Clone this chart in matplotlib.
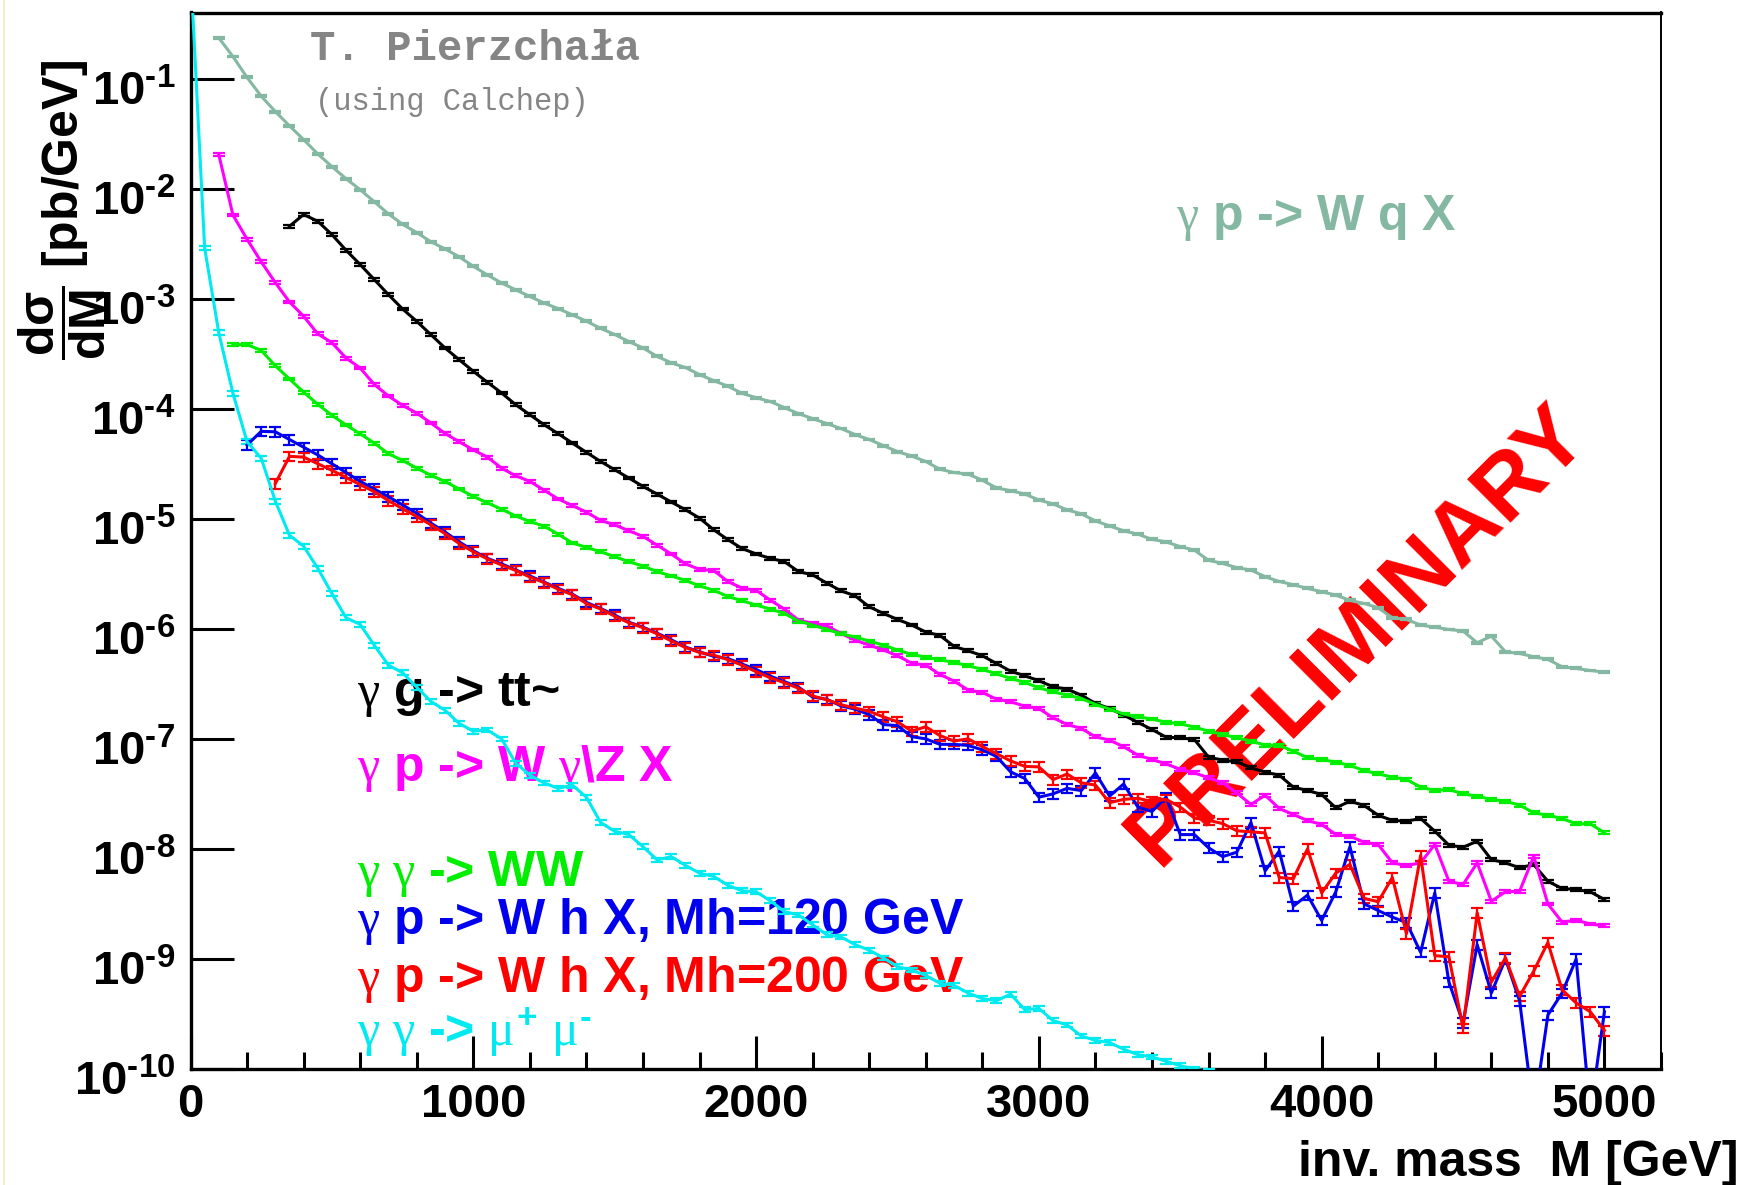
import numpy as np
import matplotlib
matplotlib.use("Agg")
import matplotlib.pyplot as plt
import matplotlib.transforms as mtransforms
from matplotlib.lines import Line2D
from matplotlib.ticker import FixedLocator, FuncFormatter, LogLocator, MultipleLocator, NullFormatter

plt.rcParams['font.family'] = ['Liberation Sans', 'DejaVu Sans']
plt.rcParams['mathtext.fontset'] = 'custom'
plt.rcParams['mathtext.rm'] = 'Liberation Sans:bold'
plt.rcParams['mathtext.bf'] = 'Liberation Sans:bold'
plt.rcParams['mathtext.sf'] = 'Liberation Sans:bold'
plt.rcParams['mathtext.it'] = 'Liberation Serif'

BIN = 50  # GeV, histogram bin width

# log10 of dsigma/dM [pb/GeV], one value per 50 GeV bin starting at *_start
wqx_start = 100
wqx_log10 = [
    -0.63, -0.80, -0.99, -1.16, -1.30, -1.43, -1.555, -1.685, -1.80, -1.91,
    -2.01, -2.12, -2.23, -2.325, -2.40, -2.483, -2.548, -2.62, -2.706, -2.785,
    -2.858, -2.92, -2.98, -3.04, -3.09, -3.147, -3.205, -3.27, -3.326, -3.39,
    -3.448, -3.525, -3.583, -3.626, -3.69, -3.745, -3.795, -3.86, -3.90, -3.935,
    -3.99, -4.045, -4.09, -4.135, -4.18, -4.235, -4.28, -4.335, -4.39, -4.43,
    -4.48, -4.55, -4.58, -4.595, -4.65, -4.72, -4.745, -4.775, -4.83, -4.865,
    -4.92, -4.955, -5.02, -5.065, -5.11, -5.14, -5.188, -5.21, -5.254, -5.285,
    -5.378, -5.406, -5.445, -5.466, -5.527, -5.57, -5.60, -5.633, -5.663, -5.694,
    -5.742, -5.77, -5.809, -5.90, -5.915, -5.966, -5.985, -6.006, -6.02, -6.127,
    -6.066, -6.209, -6.224, -6.254, -6.278, -6.345, -6.36, -6.379, -6.394,
]

ttbar_start = 350
ttbar_log10 = [
    -2.342, -2.236, -2.297, -2.418, -2.56, -2.69, -2.827, -2.964, -3.094, -3.206,
    -3.327, -3.448, -3.555, -3.66, -3.76, -3.857, -3.964, -4.055, -4.145, -4.227,
    -4.312, -4.397, -4.479, -4.555, -4.63, -4.706, -4.776, -4.848, -4.918, -4.994,
    -5.10, -5.19, -5.27, -5.32, -5.36, -5.39, -5.48, -5.51, -5.585, -5.655,
    -5.70, -5.80, -5.86, -5.915, -5.965, -6.03, -6.06, -6.16, -6.20, -6.245,
    -6.315, -6.385, -6.427, -6.472, -6.527, -6.548, -6.603, -6.678, -6.724, -6.784,
    -6.851, -6.915, -6.985, -6.991, -7.006, -7.166, -7.194, -7.209, -7.263, -7.303,
    -7.33, -7.439, -7.469, -7.506, -7.627, -7.566, -7.606, -7.694, -7.742, -7.748,
    -7.724, -7.839, -7.966, -7.985, -7.93, -8.097, -8.127, -8.172, -8.142, -8.294,
    -8.36, -8.369, -8.39, -8.46,
]

wgz_start = 100
wgz_log10 = [
    -1.69, -2.24, -2.46, -2.665, -2.855, -3.03, -3.16, -3.32, -3.40, -3.54,
    -3.63, -3.78, -3.885, -3.97, -4.04, -4.13, -4.225, -4.30, -4.375, -4.44,
    -4.54, -4.61, -4.66, -4.74, -4.82, -4.88, -4.94, -5.015, -5.055, -5.11,
    -5.16, -5.24, -5.32, -5.41, -5.46, -5.47, -5.57, -5.63, -5.65, -5.739,
    -5.821, -5.921, -5.951, -5.972, -6.042, -6.103, -6.148, -6.193, -6.245, -6.312,
    -6.33, -6.415, -6.475, -6.557, -6.578, -6.639, -6.663, -6.703, -6.724, -6.809,
    -6.869, -6.906, -6.981, -7.012, -7.072, -7.148, -7.188, -7.227, -7.278, -7.309,
    -7.354, -7.40, -7.491, -7.597, -7.512, -7.633, -7.688, -7.742, -7.778, -7.869,
    -7.885, -7.939, -7.96, -8.127, -8.151, -8.127, -7.96, -8.294, -8.324, -8.127,
    -8.475, -8.39, -8.385, -8.067, -8.50, -8.665, -8.648, -8.682, -8.699,
]

ww_start = 150
ww_log10 = [
    -3.418, -3.418, -3.47, -3.61, -3.73, -3.85, -3.96, -4.06, -4.148, -4.228,
    -4.313, -4.41, -4.47, -4.54, -4.605, -4.662, -4.73, -4.797, -4.856, -4.913,
    -4.975, -5.025, -5.067, -5.14, -5.22, -5.26, -5.30, -5.345, -5.39, -5.43,
    -5.48, -5.52, -5.56, -5.61, -5.65, -5.706, -5.745, -5.784, -5.821, -5.86,
    -5.93, -5.966, -6.006, -6.045, -6.075, -6.112, -6.148, -6.193, -6.233, -6.257,
    -6.281, -6.306, -6.336, -6.369, -6.409, -6.451, -6.487, -6.536, -6.572, -6.603,
    -6.633, -6.687, -6.73, -6.775, -6.80, -6.82, -6.85, -6.863, -6.894, -6.93,
    -6.96, -6.99, -7.021, -7.057, -7.06, -7.112, -7.172, -7.188, -7.212, -7.242,
    -7.288, -7.318, -7.348, -7.369, -7.439, -7.469, -7.46, -7.50, -7.521, -7.551,
    -7.566, -7.603, -7.672, -7.694, -7.724, -7.772, -7.772, -7.854,
]

wh120_start = 200
wh120_log10 = [
    -4.33, -4.206, -4.21, -4.28, -4.35, -4.42, -4.50, -4.58, -4.66, -4.73,
    -4.80, -4.875, -4.95, -5.04, -5.12, -5.21, -5.29, -5.36, -5.41, -5.465,
    -5.52, -5.575, -5.632, -5.685, -5.76, -5.815, -5.875, -5.94, -5.985, -6.04,
    -6.10, -6.165, -6.21, -6.25, -6.27, -6.32, -6.37, -6.43, -6.48, -6.53,
    -6.62, -6.64, -6.70, -6.73, -6.78, -6.87, -6.88, -6.98, -7.00, -7.05,
    -7.05, -7.06, -7.10, -7.16, -7.30, -7.36, -7.53, -7.50, -7.45, -7.47,
    -7.31, -7.52, -7.41, -7.62, -7.66, -7.53, -7.87, -7.87, -7.99, -8.07,
    -8.03, -7.76, -8.20, -8.02, -8.52, -8.42, -8.65, -8.39, -7.98, -8.50,
    -8.56, -8.62, -8.67, -8.94, -8.40, -9.21, -9.58, -8.87, -9.31, -9.00,
    -9.38, -10.4, -9.51, -9.31, -9.00, -10.4, -9.48,
]

wh200_start = 300
wh200_log10 = [
    -4.68, -4.433, -4.44, -4.50, -4.56, -4.625, -4.69, -4.755, -4.835, -4.91,
    -4.98, -5.055, -5.135, -5.225, -5.30, -5.365, -5.42, -5.47, -5.53, -5.58,
    -5.64, -5.69, -5.77, -5.82, -5.885, -5.945, -5.99, -6.045, -6.11, -6.17,
    -6.215, -6.24, -6.28, -6.33, -6.39, -6.445, -6.49, -6.54, -6.61, -6.645,
    -6.69, -6.72, -6.75, -6.80, -6.845, -6.93, -6.89, -6.97, -7.02, -7.00,
    -7.07, -7.135, -7.20, -7.25, -7.255, -7.37, -7.32, -7.40, -7.42, -7.58,
    -7.55, -7.54, -7.57, -7.55, -7.62, -7.72, -7.74, -7.77, -7.835, -7.845,
    -7.855, -8.26, -8.27, -8.00, -8.40, -8.22, -8.14, -8.45, -8.48, -8.26,
    -8.77, -8.06, -8.97, -8.98, -9.63, -8.58, -9.21, -8.99, -9.34, -9.11,
    -8.85, -9.28, -9.40, -9.48, -9.65,
]

mumu_start = 0
mumu_log10 = [
    0.0, -2.54, -3.31, -3.86, -4.30, -4.45, -4.84, -5.15, -5.25, -5.45,
    -5.68, -5.90, -5.96, -6.15, -6.33, -6.40, -6.53, -6.66, -6.74, -6.86,
    -6.93, -6.92, -7.00, -7.22, -7.33, -7.40, -7.45, -7.42, -7.53, -7.76,
    -7.84, -7.87, -7.98, -8.10, -8.07, -8.15, -8.22, -8.25, -8.33, -8.38,
    -8.39, -8.47, -8.57, -8.60, -8.69, -8.78, -8.80, -8.87, -8.92, -8.99,
    -9.07, -9.10, -9.15, -9.22, -9.24, -9.31, -9.36, -9.38, -9.32, -9.46,
    -9.45, -9.56, -9.60, -9.70, -9.74, -9.76, -9.82, -9.87, -9.89, -9.93,
    -9.97, -10.0, -10.02,
]

# relative statistical error of each sample
rel_err = {"wqx": 0.02, "ttbar": 0.03, "wgz": 0.03, "ww": 0.03,
           "wh120": 0.10, "wh200": 0.10, "mumu": 0.05}

labels = {
    "ttbar": r"$\gamma$ g -> tt~",
    "wgz": r"$\gamma$ p -> W $\gamma$\Z X",
    "ww": r"$\gamma\ \gamma$ -> WW",
    "wh120": r"$\gamma$ p -> W h X, Mh=120 GeV",
    "wh200": r"$\gamma$ p -> W h X, Mh=200 GeV",
    "mumu": r"$\gamma\ \gamma$ -> $\mu^{+}\ \mu^{\text{-}}$",
    "wqx": r"$\gamma$ p -> W q X",
}

colors = {"wqx": "#84b8a2", "ttbar": "black", "wgz": "#ff00ff", "ww": "#00ee00",
          "wh120": "#0000ee", "wh200": "#ff0000", "mumu": "#00eaf0"}

series = [
    ("wqx", wqx_start, wqx_log10),
    ("ttbar", ttbar_start, ttbar_log10),
    ("wgz", wgz_start, wgz_log10),
    ("ww", ww_start, ww_log10),
    ("wh120", wh120_start, wh120_log10),
    ("wh200", wh200_start, wh200_log10),
    ("mumu", mumu_start, mumu_log10),
]


def decade_label(v, pos):
    # exponent written with a short hyphen, as ROOT does
    e = int(round(np.log10(v)))
    sign = r"\text{-}" if e < 0 else ""
    return r"$\mathbf{10^{%s%d}}$" % (sign, abs(e))


W, H = 1754, 1185
fig = plt.figure(figsize=(W / 100, H / 100), dpi=100)
ax = fig.add_axes([190.5 / W, 1 - 1069 / H, (1661 - 190.5) / W, (1069 - 12.5) / H])

for key, start, logv in series:
    m = start + BIN * np.arange(len(logv))
    y = 10.0 ** np.asarray(logv)
    ax.errorbar(m, y, yerr=rel_err[key] * y, color=colors[key], lw=2.2,
                elinewidth=1.6, capsize=4, capthick=1.6, zorder=3)

ax.set_yscale("log")
ax.set_xlim(0, 5200)
ax.set_ylim(1e-10, 10 ** -0.40)

ax.xaxis.set_major_locator(MultipleLocator(1000))
ax.xaxis.set_minor_locator(MultipleLocator(200))
ax.yaxis.set_major_locator(FixedLocator(10.0 ** np.arange(-10, 0)))
ax.yaxis.set_minor_locator(LogLocator(base=10, subs=np.arange(2, 10)))
ax.yaxis.set_minor_formatter(NullFormatter())
ax.yaxis.set_major_formatter(FuncFormatter(decade_label))

ax.tick_params(axis="both", which="both", direction="in", width=2.2,
               top=False, right=False)
ax.tick_params(axis="y", which="major", length=31, pad=11, labelsize=34)
ax.tick_params(axis="y", which="minor", length=16)
ax.tick_params(axis="x", which="major", length=24, pad=10, labelsize=34)
ax.tick_params(axis="x", which="minor", length=12.5)
for lab in ax.get_xticklabels():
    lab.set_fontweight("bold")

# ROOT puts the exponent labels a little below their ticks
shift = mtransforms.ScaledTranslation(0, -9 / 100, fig.dpi_scale_trans)
for lab in ax.get_yticklabels():
    lab.set_transform(lab.get_transform() + shift)

for side in ("left", "bottom", "top"):
    ax.spines[side].set_linewidth(2.4)
ax.spines["right"].set_linewidth(1.4)

# axis titles
fig.text(62 / W, 1 - 60 / H, r"$\dfrac{\mathbf{d\sigma}}{\mathbf{dM}}$ [pb/GeV]",
         rotation=90, ha="center", va="top", fontsize=36, fontweight="bold")
fig.text(1738 / W, 1 - 1176 / H, "inv. mass  M [GeV]", ha="right", va="baseline",
         fontsize=36, fontweight="bold")

# author stamp
fig.text(310 / W, 1 - 60 / H, "T. Pierzchała", family="Liberation Mono",
         fontweight="bold", fontsize=30.5, color="#858585", va="baseline")
fig.text(315 / W, 1 - 110 / H, "(using Calchep)", family="Liberation Mono",
         fontsize=22, color="#858585", va="baseline")

# process labels, drawn under the curves
label_pos = {
    "ttbar": (357, 706), "wgz": (357, 781), "ww": (357, 886),
    "wh120": (357, 934), "wh200": (357, 992), "mumu": (357, 1045),
    "wqx": (1176, 230),
}
for key, (px, py) in label_pos.items():
    ax.text(px / W, 1 - py / H, labels[key], transform=fig.transFigure,
            color=colors[key], fontsize=36, fontweight="bold", va="baseline",
            zorder=1, clip_on=False)

ax.text(1358 / W, 1 - 636 / H, "PRELIMINARY", transform=fig.transFigure,
        rotation=45, rotation_mode="anchor", ha="center", va="center",
        fontsize=64, fontweight="bold", color="#ff0000", zorder=1, clip_on=False)

fig.add_artist(Line2D([4 / W, 4 / W], [0, 1], color="#f2edc8", lw=1.5))

fig.savefig("out.png", dpi=100)
